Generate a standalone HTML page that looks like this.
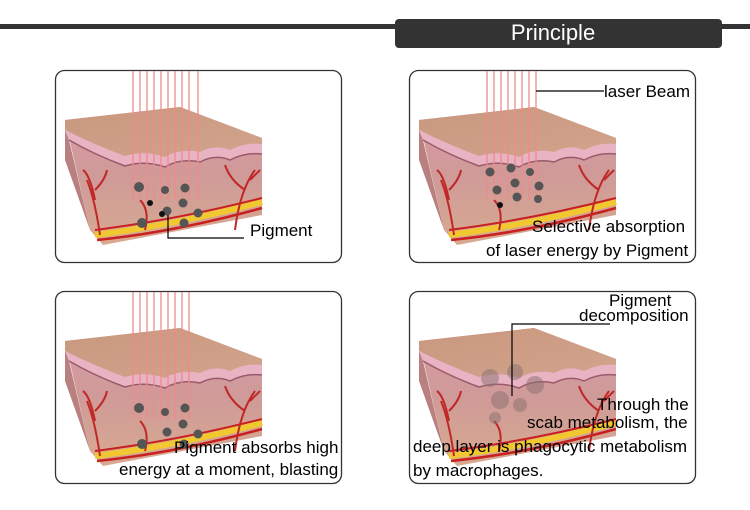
<!DOCTYPE html>
<html><head><meta charset="utf-8"><style>
body{margin:0;background:#fff;}
svg{display:block;font-family:"Liberation Sans",Arial,sans-serif;}
</style></head><body>
<svg width="750" height="510" viewBox="0 0 750 510" xmlns="http://www.w3.org/2000/svg">
<defs>
<linearGradient id="fr" x1="0" y1="0" x2="0" y2="1">
<stop offset="0" stop-color="#d99aa8"/><stop offset="0.5" stop-color="#cf9a98"/><stop offset="1" stop-color="#d8aa90"/>
</linearGradient>
<linearGradient id="tp" x1="0" y1="0" x2="1" y2="1">
<stop offset="0" stop-color="#c8977e"/><stop offset="1" stop-color="#d2a48c"/>
</linearGradient>
<g id="skin">
<path d="M10,50 L125,37 L207,68 L207,145 L48,175 L35,160 Z" fill="url(#fr)"/>
<path d="M10,50 L125,37 L207,68 L207,74 Q190,72 175,80 Q160,74 145,82 Q125,78 110,87 Q90,80 70,86 Q40,75 10,60 Z" fill="url(#tp)"/>
<path d="M10,60 Q40,75 70,86 Q90,80 110,87 Q125,78 145,82 Q160,74 175,80 Q190,72 207,74 L207,84 Q190,82 175,90 Q160,84 145,92 Q125,88 110,97 Q90,90 70,96 Q40,85 14,70 Z" fill="#e8b4c4"/>
<path d="M14,70 Q40,85 70,96 Q90,90 110,97 Q125,88 145,92 Q160,84 175,90 Q190,82 207,84" fill="none" stroke="#9a5a6a" stroke-width="1.5"/>
<path d="M10,60 L14,70 L35,160 L10,90 Z" fill="#b98080"/>
<path d="M40,165 Q120,155 207,132" fill="none" stroke="#f2c830" stroke-width="6"/>
<path d="M42,170 Q120,162 207,138" fill="none" stroke="#c82020" stroke-width="2.5"/>
<path d="M40,160 Q120,150 207,128" fill="none" stroke="#c82020" stroke-width="2"/>
<path d="M32,110 Q40,130 45,165 M28,100 Q35,105 40,130 M40,120 Q50,110 52,100 M180,160 Q185,120 200,100 M190,120 Q175,110 170,95 M195,110 L205,100 M90,160 Q95,140 85,130" fill="none" stroke="#c02828" stroke-width="2"/>
</g>
</defs>
<rect x="0" y="24" width="750" height="5" fill="#333"/>
<rect x="395" y="19" width="327" height="29" rx="4" fill="#333"/>
<text x="553" y="40" font-size="22" fill="#fff" text-anchor="middle">Principle</text>

<g fill="#fff" stroke="#333" stroke-width="1.3">
<rect x="55.5" y="70.5" width="286" height="192" rx="9"/>
<rect x="409.5" y="70.5" width="286" height="192" rx="9"/>
<rect x="55.5" y="291.5" width="286" height="192" rx="9"/>
<rect x="409.5" y="291.5" width="286" height="192" rx="9"/>
</g>

<use href="#skin" x="55" y="70"/>
<use href="#skin" x="409" y="70"/>
<use href="#skin" x="55" y="291"/>
<use href="#skin" x="409" y="291"/>

<g stroke="#f08a8a" stroke-width="1.6" opacity="0.8">
<path d="M133,71V200M140,71V200M147,71V200M154,71V200M161,71V200M168,71V200M175,71V200M182,71V200M189,71V200M198,71V200"/>
<path d="M487,71V200M494,71V200M501,71V200M508,71V200M515,71V200M522,71V200M529,71V200M536,71V200"/>
<path d="M133,292V420M140,292V420M147,292V420M154,292V420M161,292V420M168,292V420M175,292V420M182,292V420M189,292V420"/>
</g>
<g fill="#555">
<circle cx="139" cy="187" r="5"/><circle cx="165" cy="190" r="4"/><circle cx="185" cy="188" r="4.5"/><circle cx="183" cy="203" r="4.5"/><circle cx="167" cy="211" r="4.5"/><circle cx="198" cy="213" r="4.5"/><circle cx="142" cy="223" r="5"/><circle cx="184" cy="223" r="4.5"/>
<circle cx="490" cy="172" r="4.5"/><circle cx="511" cy="168" r="4.5"/><circle cx="530" cy="172" r="4"/><circle cx="515" cy="183" r="4.5"/><circle cx="539" cy="186" r="4.5"/><circle cx="497" cy="190" r="4.5"/><circle cx="517" cy="197" r="4.5"/><circle cx="538" cy="199" r="4"/>
<circle cx="139" cy="408" r="5"/><circle cx="165" cy="412" r="4"/><circle cx="185" cy="408" r="4.5"/><circle cx="183" cy="424" r="4.5"/><circle cx="167" cy="432" r="4.5"/><circle cx="198" cy="434" r="4.5"/><circle cx="142" cy="444" r="5"/><circle cx="184" cy="444" r="4.5"/>
</g>
<g fill="#111"><circle cx="150" cy="203" r="3"/><circle cx="162" cy="214" r="3"/><circle cx="500" cy="205" r="3"/></g>
<g fill="#8a7070" opacity="0.5">
<circle cx="490" cy="378" r="9"/><circle cx="515" cy="372" r="8"/><circle cx="535" cy="385" r="9"/><circle cx="500" cy="400" r="9"/><circle cx="520" cy="405" r="7"/><circle cx="495" cy="418" r="6"/>
</g>

<g stroke="#000" stroke-width="1.2" fill="none">
<path d="M168,215V238H244"/>
<path d="M536,91H604"/>
<path d="M512,396V324H610"/>
</g>

<g font-size="17" fill="#000">
<text x="250" y="236">Pigment</text>
<text x="604" y="97">laser Beam</text>
<text x="532" y="232">Selective absorption</text>
<text x="486" y="256">of laser energy by Pigment</text>
<text x="174" y="453">Pigment absorbs high</text>
<text x="119" y="475">energy at a moment, blasting</text>
<text x="609" y="306">Pigment</text>
<text x="579" y="321">decomposition</text>
<text x="597" y="410">Through the</text>
<text x="527" y="428">scab metabolism, the</text>
<text x="413" y="452">deep layer is phagocytic metabolism</text>
<text x="413" y="476">by  macrophages.</text>
</g>
</svg>
</body></html>
